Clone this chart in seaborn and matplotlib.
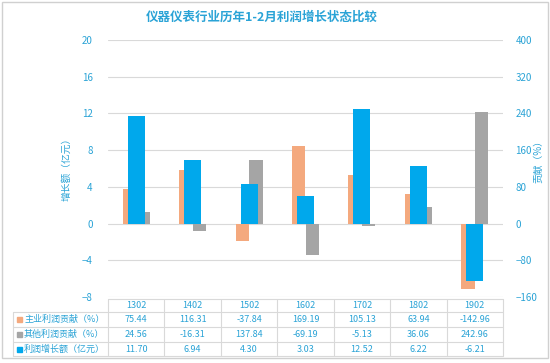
import matplotlib
matplotlib.use("Agg")
import matplotlib.pyplot as plt
import matplotlib.transforms as mtransforms
from matplotlib.patches import Rectangle
import seaborn as sns
import pandas as pd

# ---- data ----
categories = ['1302', '1402', '1502', '1602', '1702', '1802', '1902']
main_contrib = [75.44, 116.31, -37.84, 169.19, 105.13, 63.94, -142.96]
other_contrib = [24.56, -16.31, 137.84, -69.19, -5.13, 36.06, 242.96]
profit_growth = [11.70, 6.94, 4.30, 3.03, 12.52, 6.22, -6.21]
series_names = ['主业利润贡献（%）', '其他利润贡献（%）', '利润增长额（亿元）']
left_ticks = [-8, -4, 0, 4, 8, 12, 16, 20]
right_ticks = [-160, -80, 0, 80, 160, 240, 320, 400]
title = '仪器仪表行业历年1-2月利润增长状态比较'

sns.set_theme(style="white")
plt.rcParams['font.family'] = ['Noto Sans CJK SC', 'DejaVu Sans']

C_ORANGE = '#F4A97E'
C_GRAY = '#A5A5A5'
C_BLUE = '#00A8EC'
C_TEXT = '#2AA3D6'
C_GRID = '#D9D9D9'

W, H = 550, 363
fig = plt.figure(figsize=(W / 100, H / 100), dpi=100)
fig.patch.set_facecolor('white')

def fx(px):
    return px / W

def fy(py):
    return 1 - py / H

L, R, T, B = 108, 503, 40, 297
ax2 = fig.add_axes([fx(L), fy(B), fx(R - L), (B - T) / H])
ax = ax2.twinx()

df_contrib = pd.DataFrame({
    'cat': categories * 2,
    'val': main_contrib + other_contrib,
    'series': [series_names[0]] * len(categories) + [series_names[1]] * len(categories),
})
df_growth = pd.DataFrame({'cat': categories, 'val': profit_growth})

sns.barplot(data=df_contrib, x='cat', y='val', hue='series', ax=ax2,
            palette=[C_ORANGE, C_GRAY], width=0.48, dodge=True, legend=False,
            saturation=1, linewidth=0, edgecolor='none')
sns.barplot(data=df_growth, x='cat', y='val', ax=ax, color=C_BLUE, width=0.30,
            saturation=1, linewidth=0, edgecolor='none')

ax.set_zorder(ax2.get_zorder() + 1)
ax.patch.set_visible(False)

for a in (ax, ax2):
    a.set_xlim(-0.5, len(categories) - 0.5)
    a.set_xlabel('')
    a.set_ylabel('')
    a.set_xticks([])
    for s in a.spines.values():
        s.set_visible(False)

# left axis is drawn on the right-hand twin; swap sides
ax.yaxis.set_label_position('left')
ax.yaxis.tick_left()
ax2.yaxis.set_label_position('right')
ax2.yaxis.tick_right()

ax.set_ylim(-8, 20)
ax.set_yticks(left_ticks)
ax2.set_ylim(-160, 400)
ax2.set_yticks(right_ticks)
ax2.yaxis.grid(True, color=C_GRID, linewidth=0.8)
ax2.set_axisbelow(True)

ax.tick_params(axis='y', length=0, pad=11, labelsize=7, labelcolor=C_TEXT)
ax2.tick_params(axis='y', length=0, pad=9, labelsize=7, labelcolor=C_TEXT)

fig.text(fx(66), fy(167), '增长额（亿元）', rotation=90, ha='center', va='center',
         fontsize=7, color=C_TEXT)
fig.text(fx(538), fy(159), '贡献（%）', rotation=90, ha='center', va='center',
         fontsize=7, color=C_TEXT)
fig.text(fx(262), fy(17), title, ha='center', va='center', fontsize=9,
         fontweight='bold', color=C_TEXT)

# ---- data table ----
trans = mtransforms.blended_transform_factory(ax.transData, fig.transFigure)
row_lines = [299, 312, 327, 342, 356]
line_kw = dict(color=C_GRID, linewidth=0.8, transform=fig.transFigure, clip_on=False)
# horizontal lines
fig.add_artist(plt.Line2D([fx(L), fx(R)], [fy(row_lines[0])] * 2, **line_kw))
for yy in row_lines[1:]:
    fig.add_artist(plt.Line2D([fx(13), fx(R)], [fy(yy)] * 2, **line_kw))
# vertical lines
for i in range(len(categories) + 1):
    xx = fx(L + (R - L) * i / len(categories))
    fig.add_artist(plt.Line2D([xx, xx], [fy(row_lines[0]), fy(row_lines[-1])], **line_kw))
fig.add_artist(plt.Line2D([fx(13), fx(13)], [fy(row_lines[1]), fy(row_lines[-1])], **line_kw))

row_centers = [(row_lines[k] + row_lines[k + 1]) / 2 for k in range(4)]
for i, c in enumerate(categories):
    fig.text(i, fy(row_centers[0]), c, transform=trans, ha='center', va='center',
             fontsize=6.5, color=C_TEXT)
    for k, vals in enumerate([main_contrib, other_contrib, profit_growth]):
        fig.text(i, fy(row_centers[k + 1]), f'{vals[i]:.2f}', transform=trans,
                 ha='center', va='center', fontsize=6.5, color=C_TEXT)

for k, (name, col) in enumerate(zip(series_names, [C_ORANGE, C_GRAY, C_BLUE])):
    yc = fy(row_centers[k + 1])
    fig.add_artist(Rectangle((fx(17), yc - 2.5 / H), 5 / W, 5 / H, color=col,
                             transform=fig.transFigure))
    fig.text(fx(24), yc, name, ha='left', va='center', fontsize=6.5, color=C_TEXT)

# outer frame
fig.add_artist(Rectangle((fx(2), fy(358)), fx(546), (356) / H, fill=False,
                         edgecolor='#D0D0D0', linewidth=1, transform=fig.transFigure))

fig.savefig('out.png', dpi=100)
